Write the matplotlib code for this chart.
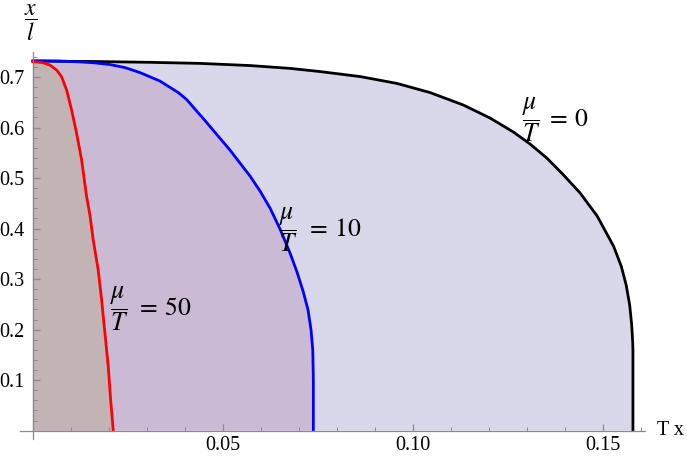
import matplotlib
matplotlib.use("Agg")
import matplotlib.pyplot as plt
from matplotlib.ticker import MultipleLocator, FixedLocator

plt.rcParams['font.family'] = ['Liberation Serif', 'DejaVu Serif']
plt.rcParams['mathtext.fontset'] = 'stix'

# curve mu/T = 0 (black)
tx_0 = [0.0, 0.01763, 0.03079, 0.04395, 0.05711, 0.06763, 0.07553, 0.08605, 0.09571,
        0.10447, 0.11324, 0.12026, 0.1264, 0.13079, 0.13518, 0.13947, 0.14395, 0.14842,
        0.15271, 0.15474, 0.15605, 0.15697, 0.1575, 0.15776, 0.15782, 0.15782]
xl_0 = [0.7317, 0.7307, 0.7292, 0.7271, 0.7228, 0.7172, 0.7109, 0.7010, 0.6875,
        0.6693, 0.6446, 0.6188, 0.5911, 0.5673, 0.5396, 0.5069, 0.4703, 0.4248,
        0.3654, 0.3257, 0.2881, 0.2485, 0.2089, 0.1752, 0.1594, 0.0]

# curve mu/T = 10 (blue)
tx_10 = [0.0, 0.00711, 0.01237, 0.01632, 0.02026, 0.02421, 0.02816, 0.03342, 0.03824,
         0.04045, 0.04571, 0.05184, 0.05711, 0.05974, 0.06237, 0.065, 0.06763, 0.06947,
         0.07113, 0.07237, 0.07316, 0.07361, 0.07376, 0.07376]
xl_10 = [0.7323, 0.7317, 0.7301, 0.7281, 0.7248, 0.7188, 0.7089, 0.6921, 0.6693,
         0.6554, 0.6099, 0.5554, 0.5040, 0.4743, 0.4406, 0.3990, 0.3515, 0.3139,
         0.2743, 0.2386, 0.1990, 0.1594, 0.1000, 0.0]

# curve mu/T = 50 (red)
tx_50 = [0.0, 0.00132, 0.00271, 0.00447, 0.00624, 0.00755, 0.00887, 0.01018, 0.0115,
         0.01282, 0.01413, 0.015, 0.01587, 0.01718, 0.01808, 0.01895, 0.01982, 0.02045,
         0.02113]
xl_50 = [0.7303, 0.7297, 0.7283, 0.7238, 0.7139, 0.7006, 0.6743, 0.6347, 0.5885,
         0.5356, 0.4630, 0.4267, 0.3772, 0.3178, 0.2584, 0.1924, 0.1263, 0.0604,
         0.0]

ratio_values = ['0', '10', '50']
frac_pos = [(0.1311, 0.615), (0.0672, 0.398), (0.0229, 0.240)]
eq_x = [0.1350, 0.0718, 0.0272]

curves = [(tx_0, xl_0, 'black', '#d9d8eb'),
          (tx_10, xl_10, '#0000ff', '#cbbad4'),
          (tx_50, xl_50, '#ff0000', '#c2b3b5')]

fig = plt.figure(figsize=(6.87, 4.59), dpi=100)
ax = fig.add_axes([0.0291, 0.0442, 0.9098, 0.8418])

for xs, ys, lc, fc in curves:
    ax.fill(xs + [0.0], ys + [0.0], color=fc, lw=0, zorder=1)
for xs, ys, lc, fc in curves:
    ax.plot(xs, ys, color=lc, lw=2.0, zorder=3, solid_joinstyle='round')

for (fx, fy), ex, val in zip(frac_pos, eq_x, ratio_values):
    ax.text(fx, fy, r'$\dfrac{\mu}{T}$', fontsize=18.5, ha='center', va='center', zorder=4)
    ax.text(ex, fy, r'$=\,' + val + '$', fontsize=18.5, ha='left', va='center', zorder=4)

ax.set_xlim(-0.0034, 0.161)
ax.set_ylim(-0.016, 0.749)

for side in ['top', 'right']:
    ax.spines[side].set_visible(False)
ax.spines['left'].set_position(('data', 0))
ax.spines['bottom'].set_position(('data', 0))
for side in ['left', 'bottom']:
    ax.spines[side].set_color('#8a8a8a')
    ax.spines[side].set_linewidth(0.9)
    ax.spines[side].set_zorder(5)

ax.xaxis.set_major_locator(FixedLocator([0.05, 0.10, 0.15]))
ax.xaxis.set_minor_locator(MultipleLocator(0.01))
ax.set_xticklabels(['0.05', '0.10', '0.15'])
ax.yaxis.set_major_locator(FixedLocator([0.1, 0.2, 0.3, 0.4, 0.5, 0.6, 0.7]))
ax.yaxis.set_minor_locator(MultipleLocator(0.02))
ax.set_yticklabels(['0.1', '0.2', '0.3', '0.4', '0.5', '0.6', '0.7'])

ax.tick_params(which='both', direction='in', color='#8a8a8a', labelsize=14.5)
ax.tick_params(which='major', length=5, width=0.9)
ax.tick_params(which='minor', length=3, width=0.7)
ax.tick_params(axis='x', pad=4)
ax.tick_params(axis='y', pad=6)

ax.text(0.1642, 0.0, 'T x', fontsize=14.5, ha='left', va='center', clip_on=False)
ax.text(-0.0005, 0.808, r'$\dfrac{x}{l}$', fontsize=17, ha='center', va='center',
        clip_on=False)

fig.savefig('out.png', dpi=100)
